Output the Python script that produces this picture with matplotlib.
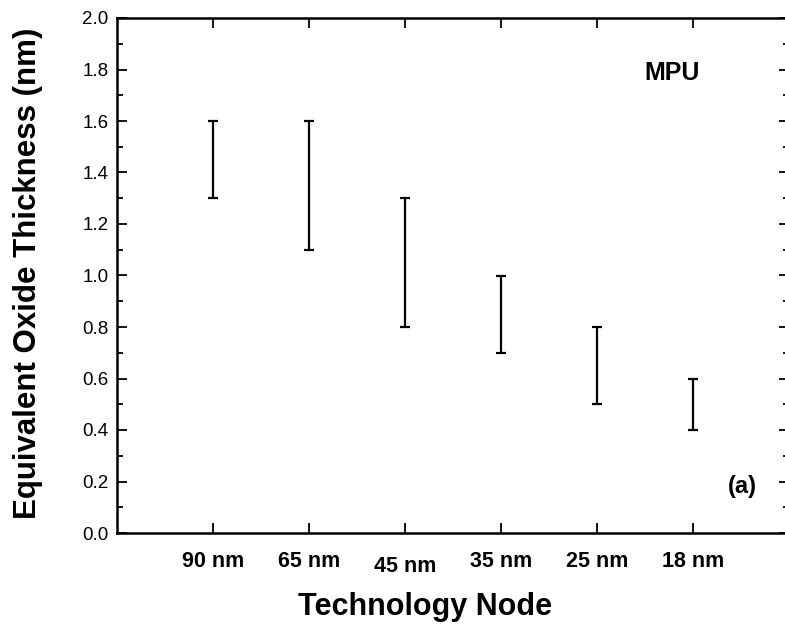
import matplotlib
matplotlib.use('Agg')
import matplotlib.pyplot as plt
import matplotlib.transforms as mtransforms
from matplotlib.ticker import MultipleLocator

plt.rcParams['font.family'] = ['Liberation Sans', 'DejaVu Sans']

# data
nodes = ['90 nm', '65 nm', '45 nm', '35 nm', '25 nm', '18 nm']
eot_low = [1.3, 1.1, 0.8, 0.7, 0.5, 0.4]
eot_high = [1.6, 1.6, 1.3, 1.0, 0.8, 0.6]

x = list(range(1, len(nodes) + 1))
mid = [(lo + hi) / 2 for lo, hi in zip(eot_low, eot_high)]
err = [(hi - lo) / 2 for lo, hi in zip(eot_low, eot_high)]

W, H = 785, 628
fig = plt.figure(figsize=(W / 100, H / 100), dpi=100)
ax = fig.add_axes([117 / W, 1 - 533 / H, 672 / W, 515 / H])

ax.errorbar(x, mid, yerr=err, fmt='none', ecolor='black', elinewidth=1.6,
            capsize=3.5, capthick=1.6)

ax.set_xlim(0, 7)
ax.set_ylim(0, 2.0)
ax.set_xticks(x)
ax.set_xticklabels(nodes, fontsize=15.5, fontweight='bold')
ax.yaxis.set_major_locator(MultipleLocator(0.2))
ax.yaxis.set_minor_locator(MultipleLocator(0.1))
ax.set_yticklabels(['%.1f' % v for v in ax.get_yticks()], fontsize=13.5)

ax.tick_params(axis='both', which='both', direction='in', top=True, right=True)
ax.tick_params(axis='both', which='major', length=7, width=1.3)
ax.tick_params(axis='y', which='minor', length=4, width=1.3)
ax.tick_params(axis='x', which='major', pad=13)
ax.tick_params(axis='y', which='major', pad=6)
for s in ax.spines.values():
    s.set_linewidth(1.8)

# the 45 nm label sits a bit lower in the original
lbl = ax.get_xticklabels()[2]
lbl.set_transform(lbl.get_transform() + mtransforms.ScaledTranslation(0, -5 / 100, fig.dpi_scale_trans))

ax.set_xlabel('Technology Node', fontsize=22, fontweight='bold')
ax.xaxis.set_label_coords((425 - 117) / 672, (533 - 592) / 515)
ax.set_ylabel('Equivalent Oxide Thickness (nm)', fontsize=22.5, fontweight='bold')
ax.yaxis.set_label_coords((43 - 117) / 672, 0.505)

fig.text(672 / W, 1 - 73 / H, 'MPU', fontsize=18, fontweight='bold', ha='center', va='center')
fig.text(742 / W, 1 - 487 / H, '(a)', fontsize=17, fontweight='bold', ha='center', va='center')

fig.savefig('out.png', dpi=100)
